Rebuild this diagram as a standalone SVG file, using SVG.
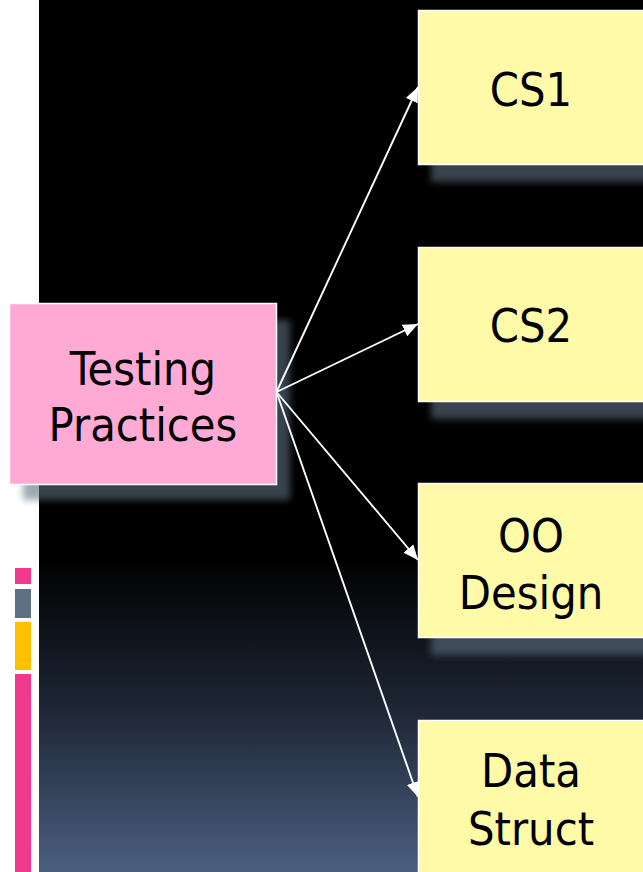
<svg xmlns="http://www.w3.org/2000/svg" width="643" height="872" viewBox="0 0 643 872">
  <defs>
    <linearGradient id="panelFill" x1="0" y1="0" x2="0" y2="872" gradientUnits="userSpaceOnUse">
      <stop offset="0" stop-color="#000000"/>
      <stop offset="0.64" stop-color="#000000"/>
      <stop offset="0.82" stop-color="#1f2838"/>
      <stop offset="1" stop-color="#4b5f80"/>
    </linearGradient>
    <filter id="soft" x="-10%" y="-10%" width="120%" height="120%">
      <feGaussianBlur stdDeviation="3.5"/>
    </filter>
    <marker id="arrowHead" markerUnits="userSpaceOnUse" markerWidth="16" markerHeight="13" refX="15" refY="6.5" orient="auto">
      <path d="M0,0 L15,6.5 L0,13 z" fill="#ffffff"/>
    </marker>
    <style>
      .shadow { fill: #5f6f82; opacity: 0.6; filter: url(#soft); }
      .topic { fill: #ffaad4; stroke: #ffffff; stroke-width: 1.5; }
      .course { fill: #fffaa8; stroke: #ffffff; stroke-width: 1.5; }
      .label { font-family: "DejaVu Sans Condensed", "DejaVu Sans", Tahoma, sans-serif; font-stretch: condensed; font-size: 46.5px; fill: #000000; text-anchor: middle; }
      .link { stroke: #ffffff; stroke-width: 1.9; fill: none; marker-end: url(#arrowHead); }
    </style>
  </defs>

  <!-- page background and dark panel -->
  <rect x="0" y="0" width="643" height="872" fill="#ffffff"/>
  <rect x="39" y="0" width="604" height="872" fill="url(#panelFill)"/>

  <!-- accent bars on the left margin -->
  <g id="accent-bars">
    <rect x="15" y="568" width="16" height="16" fill="#f0388c"/>
    <rect x="15" y="589" width="16" height="29" fill="#5f6f82"/>
    <rect x="15" y="622" width="16" height="48" fill="#ffc000"/>
    <rect x="15" y="674" width="16" height="198" fill="#f0388c"/>
  </g>

  <g id="node-testing-practices">
    <rect class="shadow" x="23" y="320" width="267" height="180"/>
    <rect class="topic" x="9.5" y="303.5" width="267" height="181"/>
    <text class="label" x="143" y="385">Testing</text>
    <text class="label" x="143" y="441">Practices</text>
  </g>

  <g id="node-cs1">
    <rect class="shadow" x="431" y="26" width="240" height="156"/>
    <rect class="course" x="418.5" y="10.5" width="240" height="154"/>
    <text class="label" x="531" y="106">CS1</text>
  </g>

  <g id="node-cs2">
    <rect class="shadow" x="431" y="263" width="240" height="156"/>
    <rect class="course" x="418.5" y="247.5" width="240" height="154"/>
    <text class="label" x="531" y="342">CS2</text>
  </g>

  <g id="node-oo-design">
    <rect class="shadow" x="431" y="499" width="240" height="156"/>
    <rect class="course" x="418.5" y="483.5" width="240" height="154"/>
    <text class="label" x="531" y="552">OO</text>
    <text class="label" x="531" y="609">Design</text>
  </g>

  <g id="node-data-struct">
    <rect class="course" x="418.5" y="720.5" width="240" height="160"/>
    <text class="label" x="531" y="787">Data</text>
    <text class="label" x="531" y="845">Struct</text>
  </g>

  <g id="connectors">
    <line class="link" x1="276.5" y1="392" x2="418" y2="87"/>
    <line class="link" x1="276.5" y1="392" x2="418" y2="324"/>
    <line class="link" x1="276.5" y1="392" x2="418" y2="560"/>
    <line class="link" x1="276.5" y1="392" x2="418" y2="797"/>
  </g>
</svg>
